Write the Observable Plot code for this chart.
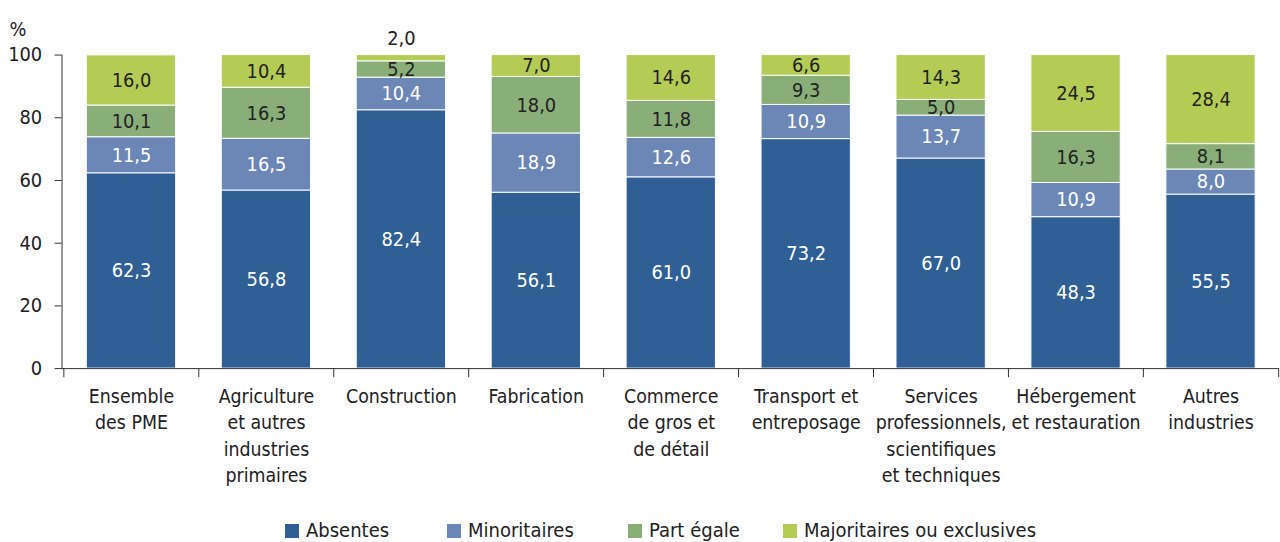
<!DOCTYPE html>
<html>
<head>
<meta charset="utf-8">
<script src="https://cdn.jsdelivr.net/npm/d3@7"></script>
<script src="https://cdn.jsdelivr.net/npm/@observablehq/plot@0.6"></script>
<style>
  html, body { margin: 0; padding: 0; background: #fff; overflow: hidden; width: 1280px; height: 542px; }
  body { position: relative; font-family: "DejaVu Sans Condensed", "DejaVu Sans", sans-serif; font-stretch: condensed; color: #222; }
  svg text { font-stretch: condensed; }
  #chart { position: absolute; left: 0; top: 0; }
  .legend-item { position: absolute; top: 519px; font-size: 20px; line-height: 22px; white-space: nowrap; }
  .legend-item span.sw { display: inline-block; width: 14px; height: 14px; margin-right: 7px; vertical-align: -1px; }
</style>
</head>
<body>
<div id="chart"></div>
<div id="legend"></div>
<script>
const categories = [
  "Ensemble\ndes PME",
  "Agriculture\net autres\nindustries\nprimaires",
  "Construction",
  "Fabrication",
  "Commerce\nde gros et\nde détail",
  "Transport et\nentreposage",
  "Services\nprofessionnels,\nscientifiques\net techniques",
  "Hébergement\net restauration",
  "Autres\nindustries"
];
const seriesNames = ["Absentes", "Minoritaires", "Part égale", "Majoritaires ou exclusives"];
const absentes     = [62.3, 56.8, 82.4, 56.1, 61.0, 73.2, 67.0, 48.3, 55.5];
const minoritaires = [11.5, 16.5, 10.4, 18.9, 12.6, 10.9, 13.7, 10.9, 8.0];
const partEgale    = [10.1, 16.3, 5.2, 18.0, 11.8, 9.3, 5.0, 16.3, 8.1];
const majoritaires = [16.0, 10.4, 2.0, 7.0, 14.6, 6.6, 14.3, 24.5, 28.4];
const yTicks = [0, 20, 40, 60, 80, 100];
const colors = ["#2f5f94", "#6a87b6", "#8aae78", "#b4cc55"];
const labelColors = ["#ffffff", "#ffffff", "#222222", "#222222"];

const seriesValues = [absentes, minoritaires, partEgale, majoritaires];
const data = [];
seriesValues.forEach((vals, si) => {
  vals.forEach((v, ci) => {
    data.push({cat: categories[ci], series: seriesNames[si], value: v, label: v.toFixed(1).replace(".", ",")});
  });
});

const W = 1290, ML = 62, MR = 1;
const step = (W - ML - MR) / categories.length;
const FONT = "\"DejaVu Sans Condensed\", \"DejaVu Sans\", sans-serif";

const plot = Plot.plot({
  width: W,
  height: 512,
  marginLeft: ML,
  marginRight: MR,
  marginTop: 55,
  marginBottom: 141,
  style: {fontFamily: FONT, fontSize: "20px", color: "#222", background: "transparent", fontStretch: "condensed"},
  x: {domain: categories, paddingInner: 0.34, paddingOuter: 0.17, label: null},
  y: {domain: [0, 100], label: null},
  color: {domain: seriesNames, range: colors},
  marks: [
    Plot.barY(data, Plot.stackY({x: "cat", y: "value", z: "series", order: seriesNames, fill: "series", stroke: "white", strokeWidth: 1})),
    Plot.text(data.filter(d => d.value >= 3), Plot.stackY({
      x: "cat", y: "value", z: "series", order: seriesNames, text: "label",
      fill: d => labelColors[seriesNames.indexOf(d.series)],
      fontSize: 20
    })),
    Plot.text(data.filter(d => d.value < 3), {
      x: "cat", y: () => 100, text: "label", dy: -17, fill: "#222", fontSize: 20
    }),
    Plot.axisY({ticks: yTicks, tickSize: 7, tickPadding: 13, fontSize: 20, label: null, stroke: "#333"}),
    Plot.axisX({tickSize: 0, tickPadding: 16, fontSize: 19.5, lineHeight: 1.36, label: null}),
    Plot.frame({anchor: "left", stroke: "#333"}),
    Plot.ruleY([0], {stroke: "#333"}),
    Plot.ruleX(categories, {x: d => d, y1: 0, y2: -2.9, dx: -step / 2, stroke: "#333"}),
    Plot.ruleX(categories.slice(-1), {x: d => d, y1: 0, y2: -2.9, dx: step / 2, stroke: "#333"}),
    Plot.text(["%"], {frameAnchor: "top-left", text: d => d, dx: -53, dy: -33, textAnchor: "start", fontSize: 20, fill: "#222"})
  ]
});
document.getElementById("chart").appendChild(plot);

const legendLefts = [285, 447, 628, 783];
const legend = document.getElementById("legend");
seriesNames.forEach((name, i) => {
  const item = document.createElement("div");
  item.className = "legend-item";
  item.style.left = legendLefts[i] + "px";
  item.innerHTML = `<span class="sw" style="background:${colors[i]}"></span>${name}`;
  legend.appendChild(item);
});
</script>
</body>
</html>
